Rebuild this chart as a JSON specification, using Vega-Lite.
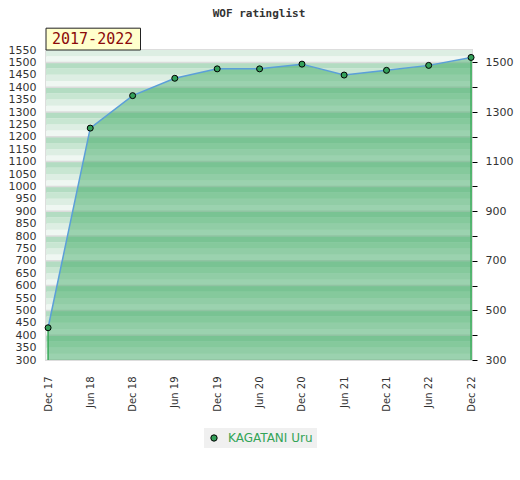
{
  "$schema": "https://vega.github.io/schema/vega-lite/v6.json",
  "width": 426,
  "height": 310,
  "autosize": {"type": "none"},
  "padding": {"left": 46, "top": 50, "right": 48, "bottom": 120},
  "background": "white",
  "title": {"text": "WOF ratinglist", "font": "DejaVu Sans Mono", "fontSize": 11, "fontWeight": "bold", "color": "#333333", "anchor": "middle", "offset": 9},
  "datasets": {
    "ratings": [
      {"player": "KAGATANI Uru", "date": "2017-12-15", "rating": 430},
      {"player": "KAGATANI Uru", "date": "2018-06-15", "rating": 1235},
      {"player": "KAGATANI Uru", "date": "2018-12-15", "rating": 1366},
      {"player": "KAGATANI Uru", "date": "2019-06-15", "rating": 1436},
      {"player": "KAGATANI Uru", "date": "2019-12-15", "rating": 1474},
      {"player": "KAGATANI Uru", "date": "2020-06-15", "rating": 1474},
      {"player": "KAGATANI Uru", "date": "2020-12-15", "rating": 1493},
      {"player": "KAGATANI Uru", "date": "2021-06-15", "rating": 1449},
      {"player": "KAGATANI Uru", "date": "2021-12-15", "rating": 1468},
      {"player": "KAGATANI Uru", "date": "2022-06-15", "rating": 1488},
      {"player": "KAGATANI Uru", "date": "2022-12-15", "rating": 1520}
    ],
    "bands": [
      {"lo": 300, "hi": 325, "shade": "d"}, {"lo": 325, "hi": 350, "shade": "c"}, {"lo": 350, "hi": 375, "shade": "b"}, {"lo": 375, "hi": 400, "shade": "a"},
      {"lo": 400, "hi": 425, "shade": "d"}, {"lo": 425, "hi": 450, "shade": "c"}, {"lo": 450, "hi": 475, "shade": "b"}, {"lo": 475, "hi": 500, "shade": "a"},
      {"lo": 500, "hi": 525, "shade": "d"}, {"lo": 525, "hi": 550, "shade": "c"}, {"lo": 550, "hi": 575, "shade": "b"}, {"lo": 575, "hi": 600, "shade": "a"},
      {"lo": 600, "hi": 625, "shade": "d"}, {"lo": 625, "hi": 650, "shade": "c"}, {"lo": 650, "hi": 675, "shade": "b"}, {"lo": 675, "hi": 700, "shade": "a"},
      {"lo": 700, "hi": 725, "shade": "d"}, {"lo": 725, "hi": 750, "shade": "c"}, {"lo": 750, "hi": 775, "shade": "b"}, {"lo": 775, "hi": 800, "shade": "a"},
      {"lo": 800, "hi": 825, "shade": "d"}, {"lo": 825, "hi": 850, "shade": "c"}, {"lo": 850, "hi": 875, "shade": "b"}, {"lo": 875, "hi": 900, "shade": "a"},
      {"lo": 900, "hi": 925, "shade": "d"}, {"lo": 925, "hi": 950, "shade": "c"}, {"lo": 950, "hi": 975, "shade": "b"}, {"lo": 975, "hi": 1000, "shade": "a"},
      {"lo": 1000, "hi": 1025, "shade": "d"}, {"lo": 1025, "hi": 1050, "shade": "c"}, {"lo": 1050, "hi": 1075, "shade": "b"}, {"lo": 1075, "hi": 1100, "shade": "a"},
      {"lo": 1100, "hi": 1125, "shade": "d"}, {"lo": 1125, "hi": 1150, "shade": "c"}, {"lo": 1150, "hi": 1175, "shade": "b"}, {"lo": 1175, "hi": 1200, "shade": "a"},
      {"lo": 1200, "hi": 1225, "shade": "d"}, {"lo": 1225, "hi": 1250, "shade": "c"}, {"lo": 1250, "hi": 1275, "shade": "b"}, {"lo": 1275, "hi": 1300, "shade": "a"},
      {"lo": 1300, "hi": 1325, "shade": "d"}, {"lo": 1325, "hi": 1350, "shade": "c"}, {"lo": 1350, "hi": 1375, "shade": "b"}, {"lo": 1375, "hi": 1400, "shade": "a"},
      {"lo": 1400, "hi": 1425, "shade": "d"}, {"lo": 1425, "hi": 1450, "shade": "c"}, {"lo": 1450, "hi": 1475, "shade": "b"}, {"lo": 1475, "hi": 1500, "shade": "a"},
      {"lo": 1500, "hi": 1525, "shade": "d"}, {"lo": 1525, "hi": 1550, "shade": "c"}
    ],
    "label": [{"text": "2017-2022"}]
  },
  "config": {
    "view": {"stroke": "#dddddd", "strokeWidth": 2},
    "axis": {"labelFont": "DejaVu Sans", "labelColor": "#333333", "grid": false, "title": null}
  },
  "resolve": {"axis": {"y": "independent"}},
  "layer": [
    {
      "data": {"name": "bands"},
      "mark": {"type": "rect"},
      "encoding": {
        "y": {"field": "lo", "type": "quantitative", "scale": {"domain": [300, 1550], "nice": false, "zero": false},
              "axis": {"orient": "left", "values": [300,350,400,450,500,550,600,650,700,750,800,850,900,950,1000,1050,1100,1150,1200,1250,1300,1350,1400,1450,1500,1550],
                       "format": "d", "ticks": false, "domain": false, "labelFontSize": 11, "labelPadding": 10}},
        "y2": {"field": "hi"},
        "fill": {"field": "shade", "type": "nominal", "legend": null,
                 "scale": {"domain": ["a", "b", "c", "d"], "range": ["#b3dcc2", "#c8e6d2", "#ddeee3", "#eff7f2"]}}
      }
    },
    {
      "data": {"name": "bands"},
      "transform": [{"filter": "datum.shade == 'd'"}],
      "mark": {"type": "rule", "color": "#dcdcdc", "strokeWidth": 1.5},
      "encoding": {
        "y": {"field": "lo", "type": "quantitative", "scale": {"domain": [300, 1550], "nice": false, "zero": false}, "axis": null}
      }
    },
    {
      "data": {"name": "ratings"},
      "mark": {"type": "area", "color": "#2ba255", "fillOpacity": 0.43},
      "encoding": {
        "x": {"field": "date", "type": "temporal",
              "scale": {"domain": [{"year": 2017, "month": 12, "date": 6}, {"year": 2022, "month": 12, "date": 19}]},
              "axis": {"values": [
                {"year": 2017, "month": 12, "date": 15}, {"year": 2018, "month": 6, "date": 15},
                {"year": 2018, "month": 12, "date": 15}, {"year": 2019, "month": 6, "date": 15},
                {"year": 2019, "month": 12, "date": 15}, {"year": 2020, "month": 6, "date": 15},
                {"year": 2020, "month": 12, "date": 15}, {"year": 2021, "month": 6, "date": 15},
                {"year": 2021, "month": 12, "date": 15}, {"year": 2022, "month": 6, "date": 15},
                {"year": 2022, "month": 12, "date": 15}],
                "format": "%b %y", "labelAngle": -90, "ticks": false, "domain": false, "labelFontSize": 10, "labelPadding": 16}},
        "y": {"field": "rating", "type": "quantitative", "scale": {"domain": [300, 1550], "nice": false, "zero": false}, "axis": null},
        "y2": {"datum": 300}
      }
    },
    {
      "data": {"name": "ratings"},
      "transform": [{"filter": "datum.rating == 430 || datum.rating == 1520"}],
      "mark": {"type": "rule", "color": "#3aaa5a", "strokeWidth": 1.5},
      "encoding": {
        "x": {"field": "date", "type": "temporal", "scale": {"domain": [{"year": 2017, "month": 12, "date": 6}, {"year": 2022, "month": 12, "date": 19}]}},
        "y": {"field": "rating", "type": "quantitative", "scale": {"domain": [300, 1550], "nice": false, "zero": false}, "axis": null},
        "y2": {"datum": 300}
      }
    },
    {
      "data": {"name": "ratings"},
      "mark": {"type": "line", "color": "#5b9fd9", "strokeWidth": 1.5},
      "encoding": {
        "x": {"field": "date", "type": "temporal", "scale": {"domain": [{"year": 2017, "month": 12, "date": 6}, {"year": 2022, "month": 12, "date": 19}]}},
        "y": {"field": "rating", "type": "quantitative", "scale": {"domain": [300, 1550], "nice": false, "zero": false}, "axis": null}
      }
    },
    {
      "data": {"name": "ratings"},
      "mark": {"type": "point", "filled": true, "size": 36, "stroke": "black", "strokeWidth": 1, "opacity": 1},
      "encoding": {
        "x": {"field": "date", "type": "temporal", "scale": {"domain": [{"year": 2017, "month": 12, "date": 6}, {"year": 2022, "month": 12, "date": 19}]}},
        "y": {"field": "rating", "type": "quantitative", "scale": {"domain": [300, 1550], "nice": false, "zero": false},
              "axis": {"orient": "right", "values": [300,400,500,600,700,800,900,1000,1100,1200,1300,1400,1500],
                       "format": "d", "labelExpr": "datum.value % 200 == 100 ? datum.label : ''",
                       "ticks": true, "tickColor": "black", "tickSize": 5, "domain": false, "labelFontSize": 11, "labelPadding": 8}},
        "color": {"field": "player", "type": "nominal", "scale": {"range": ["#34a05a"]},
                  "legend": {"orient": "none", "legendX": 158, "legendY": 378, "title": null, "fillColor": "#f0f0f0", "padding": 4,
                             "labelColor": "#33a457", "labelFont": "DejaVu Sans", "labelFontSize": 12,
                             "symbolType": "circle", "symbolSize": 40, "symbolStrokeColor": "black", "symbolStrokeWidth": 1,
                             "symbolOpacity": 1, "labelOffset": 8}}
      }
    },
    {
      "data": {"name": "label"},
      "mark": {"type": "rect", "fill": "#ffffcc", "stroke": "#222222", "strokeWidth": 1, "clip": false},
      "encoding": {
        "x": {"datum": {"year": 2017, "month": 12, "date": 6}, "type": "temporal", "scale": {"domain": [{"year": 2017, "month": 12, "date": 6}, {"year": 2022, "month": 12, "date": 19}]}},
        "x2": {"datum": {"year": 2019, "month": 1, "date": 18}},
        "y": {"datum": 1550, "type": "quantitative", "scale": {"domain": [300, 1550], "nice": false, "zero": false}, "axis": null},
        "y2": {"datum": 1638}
      }
    },
    {
      "data": {"name": "label"},
      "mark": {"type": "text", "font": "DejaVu Sans Mono", "fontSize": 15, "color": "#8b0a0a", "align": "left", "baseline": "middle", "dx": 6, "clip": false},
      "encoding": {
        "text": {"field": "text"},
        "x": {"datum": {"year": 2017, "month": 12, "date": 6}, "type": "temporal", "scale": {"domain": [{"year": 2017, "month": 12, "date": 6}, {"year": 2022, "month": 12, "date": 19}]}},
        "y": {"datum": 1594, "type": "quantitative", "scale": {"domain": [300, 1550], "nice": false, "zero": false}, "axis": null}
      }
    }
  ]
}
